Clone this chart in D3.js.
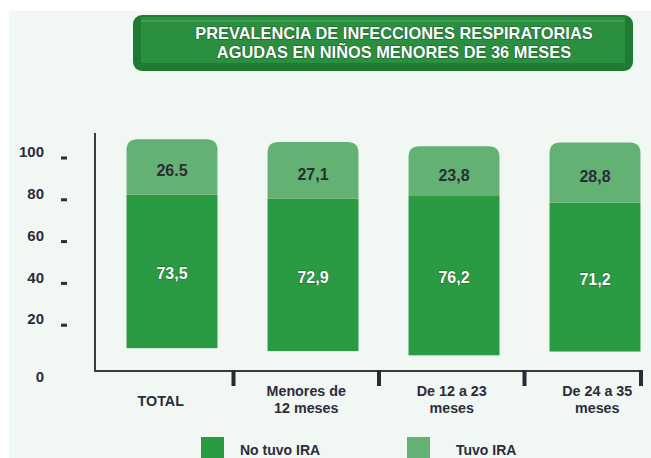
<!DOCTYPE html>
<html>
<head>
  <meta charset="utf-8">
  <script src="https://d3js.org/d3.v7.min.js"></script>
  <style>
    body { margin: 0; background: #ffffff; }
    text { font-family: "Liberation Sans", Arial, sans-serif; font-weight: bold; }
  </style>
</head>
<body>
<div id="chart"></div>
<script>
// data
var categories = ["TOTAL", "Menores de|12 meses", "De 12 a 23|meses", "De 24 a 35|meses"];
var noTuvo = [73.5, 72.9, 76.2, 71.2];
var tuvo = [26.5, 27.1, 23.8, 28.8];
var noTuvoLabels = ["73,5", "72,9", "76,2", "71,2"];
var tuvoLabels = ["26.5", "27,1", "23,8", "28,8"];
// the bars float above the axis in the original; where each bar starts (axis units)
var barBase = [9, 7.6, 5.6, 7.4];
var yTicks = [0, 20, 40, 60, 80, 100];
var titleLines = ["PREVALENCIA DE INFECCIONES RESPIRATORIAS", "AGUDAS EN NIÑOS MENORES DE 36 MESES"];
var legendItems = ["No tuvo IRA", "Tuvo IRA"];

var W = 651, H = 458;
var darkGreen = "#2a9a43", lightGreen = "#63b274", ink = "#2c2c3a";

var svg = d3.select("#chart").append("svg")
    .attr("width", W)
    .attr("height", H);

// light background panel
svg.append("rect")
    .attr("x", 9).attr("y", 11)
    .attr("width", W - 9).attr("height", H - 11)
    .attr("fill", "#f1f7f3");

// title banner
var banner = svg.append("g");
banner.append("rect")
    .attr("x", 133).attr("y", 15).attr("width", 500).attr("height", 56)
    .attr("rx", 9).attr("fill", "#1f7a33");
banner.append("rect")
    .attr("x", 141).attr("y", 17).attr("width", 484).attr("height", 46)
    .attr("fill", "#2b8f40");
banner.append("line")
    .attr("x1", 141).attr("x2", 625).attr("y1", 21).attr("y2", 21)
    .attr("stroke", "#4fae62").attr("stroke-width", 1);
banner.selectAll("text.title")
  .data(titleLines)
  .enter().append("text")
    .attr("class", "title")
    .attr("x", 394)
    .attr("y", function(d, i) { return 39 + i * 19; })
    .attr("text-anchor", "middle")
    .attr("fill", "#ffffff")
    .style("font-size", "16.4px")
    .style("paint-order", "stroke")
    .attr("stroke", "#1b5e2a").attr("stroke-width", 1.2)
    .text(function(d) { return d; });

// scales
var y = d3.scaleLinear().domain([0, 100]).range([367, 158]);

// axis band (category labels and separators)
var xAxis = d3.scaleBand().domain(categories).range([88, 670]);
// bar band (bars sit a bit off the axis bands in the original)
var xBar = d3.scaleBand().domain(categories).range([101.5, 665.5])
    .paddingInner(0.355).paddingOuter(0.1775);

// y axis: dashes and labels
var yAxis = svg.append("g");
yAxis.selectAll("rect.dash")
  .data(yTicks.filter(function(d) { return d > 0; }))
  .enter().append("rect")
    .attr("class", "dash")
    .attr("x", 61).attr("width", 6)
    .attr("y", function(d) { return y(d) - 1.5; })
    .attr("height", 3)
    .attr("fill", ink);
yAxis.selectAll("text")
  .data(yTicks)
  .enter().append("text")
    .attr("x", 44)
    .attr("y", function(d) { return d === 0 ? y(d) + 10 : y(d) - 6; })
    .attr("dy", "0.35em")
    .attr("text-anchor", "end")
    .attr("fill", ink)
    .style("font-size", "15px")
    .text(function(d) { return d; });

// axis lines
svg.append("path")
    .attr("d", "M95,133V371H642")
    .attr("fill", "none")
    .attr("stroke", "#3a3a44")
    .attr("stroke-width", 2);

// separator ticks on the x axis
var sepX = categories.slice(1).map(function(c) { return xAxis(c); }).concat([641]);
svg.selectAll("rect.sep")
  .data(sepX)
  .enter().append("rect")
    .attr("class", "sep")
    .attr("x", function(d) { return d - 2; })
    .attr("y", 370).attr("width", 4).attr("height", 16)
    .attr("fill", "#2a2a34");

// category labels
var catG = svg.selectAll("text.cat")
  .data(categories)
  .enter().append("text")
    .attr("class", "cat")
    .attr("text-anchor", "middle")
    .attr("fill", ink)
    .style("font-size", "14.3px")
    .attr("y", function(d) { return d.indexOf("|") < 0 ? 406 : 396; });
catG.selectAll("tspan")
  .data(function(d) { return d.split("|").map(function(t) { return {t: t, c: d}; }); })
  .enter().append("tspan")
    .attr("x", function(d) { return xAxis(d.c) + xAxis.bandwidth() / 2; })
    .attr("dy", function(d, i) { return i === 0 ? 0 : 17; })
    .text(function(d) { return d.t; });

// bars
function roundedTop(x, y0, w, h, r) {
  return "M" + x + "," + (y0 + h) +
    "V" + (y0 + r) +
    "Q" + x + "," + y0 + " " + (x + r) + "," + y0 +
    "H" + (x + w - r) +
    "Q" + (x + w) + "," + y0 + " " + (x + w) + "," + (y0 + r) +
    "V" + (y0 + h) + "Z";
}

var bars = svg.selectAll("g.bar")
  .data(categories.map(function(c, i) {
    return {cat: c, base: barBase[i], no: noTuvo[i], yes: tuvo[i], noLab: noTuvoLabels[i], yesLab: tuvoLabels[i]};
  }))
  .enter().append("g")
    .attr("class", "bar");

bars.append("rect")
    .attr("x", function(d) { return xBar(d.cat); })
    .attr("width", xBar.bandwidth())
    .attr("y", function(d) { return y(d.base + d.no); })
    .attr("height", function(d) { return y(d.base) - y(d.base + d.no); })
    .attr("fill", darkGreen);

bars.append("path")
    .attr("d", function(d) {
      var top = y(d.base + d.no + d.yes);
      return roundedTop(xBar(d.cat), top, xBar.bandwidth(), y(d.base + d.no) - top, 11);
    })
    .attr("fill", lightGreen);

bars.append("text")
    .attr("x", function(d) { return xBar(d.cat) + xBar.bandwidth() / 2; })
    .attr("y", function(d) { return (y(d.base) + y(d.base + d.no)) / 2 + 2; })
    .attr("dy", "0.35em")
    .attr("text-anchor", "middle")
    .attr("fill", "#ffffff")
    .style("font-size", "16px")
    .style("paint-order", "stroke")
    .attr("stroke", "#1d5e2b").attr("stroke-width", 0.8)
    .text(function(d) { return d.noLab; });

bars.append("text")
    .attr("x", function(d) { return xBar(d.cat) + xBar.bandwidth() / 2; })
    .attr("y", function(d) { return (y(d.base + d.no) + y(d.base + d.no + d.yes)) / 2 + 4; })
    .attr("dy", "0.35em")
    .attr("text-anchor", "middle")
    .attr("fill", ink)
    .style("font-size", "16px")
    .text(function(d) { return d.yesLab; });

// legend
var legend = svg.selectAll("g.legend")
  .data(legendItems)
  .enter().append("g")
    .attr("class", "legend")
    .attr("transform", function(d, i) { return "translate(" + (201 + i * 206) + ",437)"; });
legend.append("rect")
    .attr("width", 23).attr("height", 24)
    .attr("fill", function(d, i) { return i === 0 ? darkGreen : lightGreen; });
legend.append("text")
    .attr("x", function(d, i) { return i === 0 ? 39 : 49; })
    .attr("y", 13)
    .attr("dy", "0.35em")
    .attr("fill", ink)
    .style("font-size", "14px")
    .text(function(d) { return d; });
</script>
</body>
</html>
